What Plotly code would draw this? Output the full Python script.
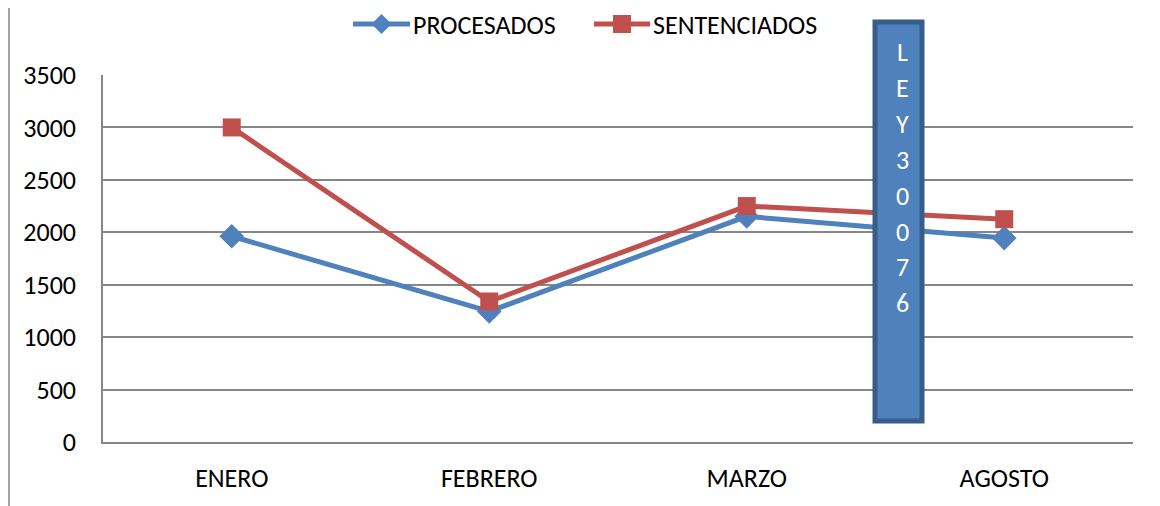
import plotly.graph_objects as go

categories = ["ENERO", "FEBRERO", "MARZO", "AGOSTO"]
procesados = [1962, 1245, 2152, 1945]
sentenciados = [3000, 1340, 2250, 2125]
y_ticks = [0, 500, 1000, 1500, 2000, 2500, 3000, 3500]
box_letters = list("LEY30076")
series_names = ["PROCESADOS", "SENTENCIADOS"]
series_colors = ["#4F81BD", "#C0504D"]

FONT = "Carlito, Calibri, Lato, Liberation Sans, sans-serif"
FS = 26
OFF = 8  # browser body margin
W, H = 1160 - OFF, 506 - OFF
L, R, T = 103 - OFF, 27, 75 - OFF
B = H - (442 - OFF)
pw, ph = W - L - R, H - T - B

def px_x(x):
    return (x - OFF - L) / pw

def px_y(y):
    return (H - B - (y - OFF)) / ph

fig = go.Figure()
fig.add_trace(go.Scatter(
    x=categories, y=procesados, name=series_names[0], mode="lines+markers",
    line=dict(color=series_colors[0], width=5),
    marker=dict(symbol="diamond", size=19, color=series_colors[0]),
    showlegend=False,
))
fig.add_trace(go.Scatter(
    x=categories, y=sentenciados, name=series_names[1], mode="lines+markers",
    line=dict(color=series_colors[1], width=5),
    marker=dict(symbol="square", size=18, color=series_colors[1]),
    showlegend=False,
))

# vertical text box and left border
shapes = [
    dict(type="rect", xref="paper", yref="paper",
         x0=px_x(875), x1=px_x(922), y0=px_y(421), y1=px_y(22),
         line=dict(color="#385D8A", width=5), fillcolor="#4F81BD", layer="above"),
    dict(type="line", xref="paper", yref="paper",
         x0=px_x(9), x1=px_x(9), y0=px_y(506), y1=px_y(8),
         line=dict(color="#868686", width=1.5)),
]

# legend drawn by hand (line sample + symbol + text)
LEG_Y = 24
def legend_item(x_line0, x_line1, x_text, name, color, symbol):
    yc = LEG_Y
    shapes.append(dict(type="line", xref="paper", yref="paper",
                       x0=px_x(x_line0), x1=px_x(x_line1), y0=px_y(yc), y1=px_y(yc),
                       line=dict(color=color, width=5)))
    xc = (x_line0 + x_line1) / 2
    if symbol == "diamond":
        s = 10
        path = "M {} {} L {} {} L {} {} L {} {} Z".format(
            px_x(xc - s), px_y(yc), px_x(xc), px_y(yc - s),
            px_x(xc + s), px_y(yc), px_x(xc), px_y(yc + s))
        shapes.append(dict(type="path", xref="paper", yref="paper", path=path,
                           fillcolor=color, line=dict(color=color, width=0)))
    else:
        s = 9
        shapes.append(dict(type="rect", xref="paper", yref="paper",
                           x0=px_x(xc - s), x1=px_x(xc + s), y0=px_y(yc + s), y1=px_y(yc - s),
                           fillcolor=color, line=dict(color=color, width=0)))
    return dict(text=name, xref="paper", yref="paper", x=px_x(x_text), y=px_y(yc + 1),
                showarrow=False, xanchor="left", yanchor="middle", borderpad=0,
                font=dict(family=FONT, size=FS, color="black"))

annotations = [
    legend_item(353, 410, 412, series_names[0], series_colors[0], "diamond"),
    legend_item(594, 650, 652, series_names[1], series_colors[1], "square"),
]
for i, ch in enumerate(box_letters):
    annotations.append(dict(
        text=ch, xref="paper", yref="paper", x=px_x(902), y=px_y(52 + 35.9 * i),
        showarrow=False, xanchor="center", yanchor="middle",
        font=dict(family=FONT, size=FS, color="white"),
    ))

fig.update_layout(
    width=W, height=H,
    margin=dict(l=L, r=R, t=T, b=B, autoexpand=False),
    paper_bgcolor="white", plot_bgcolor="white",
    font=dict(family=FONT, size=FS, color="black"),
    showlegend=False,
    xaxis=dict(type="category", categoryorder="array", categoryarray=categories,
               range=[-0.5, 3.5], showgrid=False, showline=True, linecolor="#868686",
               linewidth=1.5, ticks="", ticklabelstandoff=12, zeroline=False),
    yaxis=dict(range=[0, 3500], tickvals=y_ticks, ticktext=[str(v) for v in y_ticks],
               showgrid=True, gridcolor="#868686", gridwidth=1.5, showline=True,
               linecolor="#868686", linewidth=1.5, ticks="", ticklabelstandoff=20,
               zeroline=False),
    shapes=shapes, annotations=annotations,
)
fig.write_html("out.html")
